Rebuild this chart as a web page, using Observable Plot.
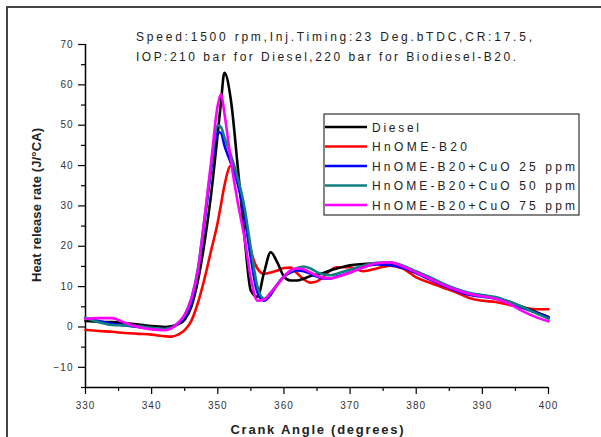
<!DOCTYPE html>
<html>
<head>
<meta charset="utf-8">
<script src="https://cdn.jsdelivr.net/npm/d3@7"></script>
<script src="https://cdn.jsdelivr.net/npm/@observablehq/plot@0.6"></script>
<style>
  html, body { margin: 0; padding: 0; background: #fff; }
  #chart { width: 601px; height: 437px; overflow: hidden; }
</style>
</head>
<body>
<div id="chart"></div>
<script>
// ---- data ----
const angle = [330,332,334,336,338,340,342,343,344,345,346,347,348,349,350,350.5,351,352,353,354,355,356,357,358,359,360,361,362,363,364,365,366,367,368,370,372,374,376,378,380,382,384,386,388,390,392,394,396,398,400];

const diesel = [1.5,1.3,1.2,1.0,0.6,0.2,0.0,0.2,0.7,1.8,5,11.5,21,33,48,56,63,56,40,23,9,7.5,13.5,18.5,16,12.5,11.5,11.5,12,12.6,13,13.4,14,14.5,15.3,15.6,15.8,15.8,15,13.5,12,10.5,9.2,8.3,7.8,7.2,6.3,5,3.8,2.5];
const b20 = [-0.7,-1.0,-1.2,-1.5,-1.7,-1.9,-2.3,-2.4,-1.9,-0.8,1.5,6,12,19,26,30.5,35,40,37,28,19,14.5,13.2,13.5,14,14.6,14.7,13.3,11.8,11,11.3,12.5,14,14.8,14.8,13.8,14.5,15.2,14.5,12.3,11,9.8,8.6,7.2,6.5,6.2,5.5,4.8,4.4,4.4];
const cuo25 = [2.2,1.5,0.8,0.4,0.0,-0.4,-0.5,-0.2,0.8,2.5,6,14,26,39,48.3,48,45,40.5,35.5,28,17,8.5,6.5,8,10.5,12.5,13.5,14,13.8,13.2,12.5,12,12,12.5,13.5,14.8,15.5,15.3,14.6,13.3,11.8,10.3,9,8,7.5,7,6,4.8,3.6,2.3];
const cuo50 = [2.3,1.2,0.5,0.4,0.2,-0.2,-0.5,-0.2,1,3,7,14.5,27,40,50,49.5,47,42.5,37,30,19.5,10,7,8.5,10.5,12.5,13.8,14.6,15,14.5,13.6,13,12.8,13.2,14.2,15.2,15.9,16,15.2,13.8,12.4,10.8,9.5,8.5,7.9,7.4,6.3,5,3.5,2.0];
const cuo75 = [2,2.2,2.2,1.0,0,-0.6,-0.8,-0.3,1,3,7,14,27,41,55,57.7,53,41,31,22.5,12,6.5,6.8,8.5,10.5,12.5,14,14.5,14.3,13.5,12.7,12.2,12,12.4,13.5,14.8,15.8,16,15,13.5,12,10.5,9.2,8.2,7.6,7.0,5.8,4,2.5,1.4];

const seriesNames = ["Diesel","HnOME-B20","HnOME-B20+CuO 25 ppm","HnOME-B20+CuO 50 ppm","HnOME-B20+CuO 75 ppm"];
const seriesValues = [diesel, b20, cuo25, cuo50, cuo75];
const seriesColors = ["#000000","#ff0000","#0000ff","#0f8080","#ff00ff"];
const drawOrder = [1,0,2,3,4];

const xTicks = [330,340,350,360,370,380,390,400];
const xMinor = [335,345,355,365,375,385,395];
const yTicks = [-10,0,10,20,30,40,50,60,70];
const yMinor = [-15,-5,5,15,25,35,45,55,65];

const titleLines = ["Speed:1500 rpm,Inj.Timing:23 Deg.bTDC,CR:17.5,", "IOP:210 bar for Diesel,220 bar for Biodiesel-B20."];
const xLabel = "Crank Angle (degrees)";
const yLabel = "Heat release rate (J/\u00B0CA)";

// ---- build table ----
const rows = [];
drawOrder.forEach(i => seriesValues[i].forEach((v, j) => rows.push({angle: angle[j], hrr: v, series: seriesNames[i]})));

const W = 601, H = 437;
const FONT = "'Liberation Sans', Arial, sans-serif";
const plot = Plot.plot({
  width: W, height: H,
  marginLeft: 85, marginRight: 53, marginTop: 44, marginBottom: 50,
  x: {domain: [330, 400]},
  y: {domain: [-15, 70]},
  color: {domain: seriesNames, range: seriesColors},
  style: {fontFamily: FONT, fontSize: "10px", color: "#333", background: "#fff"},
  marks: [
    Plot.axisX({ticks: xTicks, tickSize: 7, tickPadding: 7, label: null, stroke: "#000", strokeWidth: 1.2}),
    Plot.axisX({ticks: xMinor, tickSize: 4, tickFormat: () => "", label: null, stroke: "#000", strokeWidth: 1.2}),
    Plot.axisY({ticks: yTicks, tickSize: 7, tickPadding: 5, label: null, stroke: "#000", strokeWidth: 1.2}),
    Plot.axisY({ticks: yMinor, tickSize: 4, tickFormat: () => "", label: null, stroke: "#000", strokeWidth: 1.2}),
    Plot.ruleX([330], {stroke: "#000", strokeWidth: 1.5}),
    Plot.ruleY([-15], {stroke: "#000", strokeWidth: 1.5}),
    Plot.line(rows, {x: "angle", y: "hrr", z: "series", stroke: "series", strokeWidth: 2.6, curve: "monotone-x"})
  ]
});
document.getElementById("chart").appendChild(plot);

const svg = d3.select(plot);
svg.selectAll("g[aria-label='x-axis tick label'] text, g[aria-label='y-axis tick label'] text")
  .style("letter-spacing", "1px");

// frame
svg.append("rect").attr("x", 7).attr("y", 7).attr("width", 700).attr("height", 700)
  .attr("fill", "none").attr("stroke", "#444").attr("stroke-width", 2);

// title
const tw = [396, 380];
titleLines.forEach((t, i) => {
  svg.append("text").attr("x", 136).attr("y", 41 + i * 20).attr("text-anchor", "start")
    .attr("font-family", FONT).attr("font-size", 12)
    .attr("fill", "#222").attr("textLength", tw[i]).attr("lengthAdjust", "spacing").text(t);
});

// legend
const lg = svg.append("g");
lg.append("rect").attr("x", 324).attr("y", 114).attr("width", 255).attr("height", 101)
  .attr("fill", "#fff").attr("stroke", "#333").attr("stroke-width", 1.2);
const legW = [47, 95, 203, 203, 203];
seriesNames.forEach((name, i) => {
  const yy = 127 + i * 19.5;
  lg.append("line").attr("x1", 325).attr("x2", 367).attr("y1", yy).attr("y2", yy)
    .attr("stroke", seriesColors[i]).attr("stroke-width", 2.6);
  lg.append("text").attr("x", 372).attr("y", yy + 4.5).attr("text-anchor", "start")
    .attr("font-family", FONT).attr("font-size", 12)
    .attr("fill", "#222").attr("textLength", legW[i]).attr("lengthAdjust", "spacing").text(name);
});

// axis labels
svg.append("text").attr("x", 317).attr("y", 434).attr("text-anchor", "middle")
  .attr("font-family", FONT).attr("font-size", 13).attr("font-weight", "bold")
  .attr("fill", "#222").attr("textLength", 173).attr("lengthAdjust", "spacing").text(xLabel);
svg.append("text").attr("transform", "translate(41,205) rotate(-90)").attr("text-anchor", "middle")
  .attr("font-family", FONT).attr("font-size", 13).attr("font-weight", "bold")
  .attr("fill", "#222").attr("textLength", 154).attr("lengthAdjust", "spacing").text(yLabel);
</script>
</body>
</html>
